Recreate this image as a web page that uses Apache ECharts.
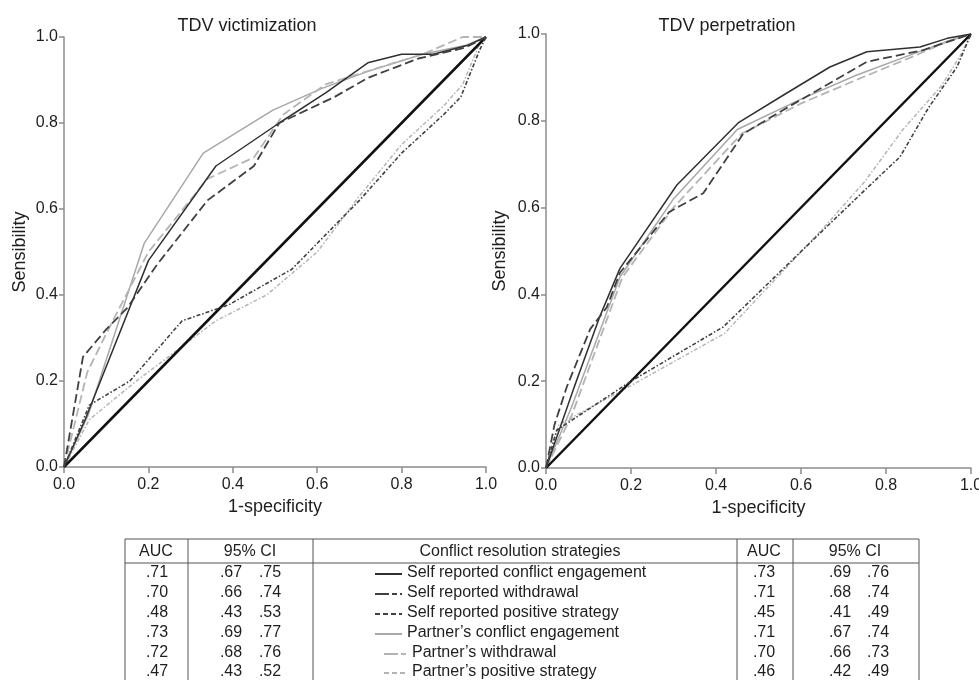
<!DOCTYPE html>
<html>
<head>
<meta charset="utf-8">
<script src="https://cdn.jsdelivr.net/npm/echarts@6/dist/echarts.min.js"></script>
<style>
html,body{margin:0;padding:0;background:#fff;}
#chart{width:979px;height:680px;}
</style>
</head>
<body>
<div id="chart"></div>
<script>
// ---------- data ----------
const tickLabels = ['0.0','0.2','0.4','0.6','0.8','1.0'];
const panelTitles = ['TDV victimization','TDV perpetration'];
const xAxisName = '1-specificity';
const yAxisName = 'Sensibility';

const strategyNames = [
  'Self reported conflict engagement',
  'Self reported withdrawal',
  'Self reported positive strategy',
  "Partner\u2019s conflict engagement",
  "Partner\u2019s withdrawal",
  "Partner\u2019s positive strategy"
];

// reference diagonal
const diagX = [0, 1];
const diagY = [0, 1];

// TDV victimization
const victSelfEngageX = [0, 0.05, 0.2, 0.36, 0.51, 0.62, 0.72, 0.80, 0.875, 0.955, 1];
const victSelfEngageY = [0, 0.11, 0.48, 0.70, 0.80, 0.87, 0.94, 0.96, 0.96, 0.98, 1];
const victSelfWithdrawX = [0, 0.045, 0.1, 0.15, 0.22, 0.34, 0.45, 0.51, 0.64, 0.72, 0.84, 0.95, 1];
const victSelfWithdrawY = [0, 0.256, 0.32, 0.37, 0.47, 0.62, 0.70, 0.80, 0.86, 0.905, 0.95, 0.975, 1];
const victSelfPositiveX = [0, 0.06, 0.156, 0.28, 0.39, 0.54, 0.61, 0.70, 0.80, 0.90, 0.94, 0.985, 1];
const victSelfPositiveY = [0, 0.144, 0.20, 0.34, 0.377, 0.46, 0.53, 0.62, 0.73, 0.82, 0.86, 0.97, 1];
const victPartnerEngageX = [0, 0.057, 0.19, 0.33, 0.495, 0.61, 0.72, 0.85, 0.95, 1];
const victPartnerEngageY = [0, 0.12, 0.52, 0.73, 0.83, 0.88, 0.92, 0.96, 0.98, 1];
const victPartnerWithdrawX = [0, 0.055, 0.1, 0.2, 0.34, 0.45, 0.52, 0.62, 0.75, 0.85, 0.945, 1];
const victPartnerWithdrawY = [0, 0.22, 0.31, 0.50, 0.67, 0.72, 0.82, 0.89, 0.93, 0.96, 1.0, 1.0];
const victPartnerPositiveX = [0, 0.06, 0.165, 0.36, 0.48, 0.60, 0.70, 0.80, 0.90, 0.945, 0.985, 1];
const victPartnerPositiveY = [0, 0.11, 0.195, 0.34, 0.40, 0.50, 0.63, 0.75, 0.84, 0.89, 0.985, 1];

// TDV perpetration
const perpSelfEngageX = [0, 0.064, 0.127, 0.174, 0.308, 0.452, 0.56, 0.668, 0.755, 0.88, 0.944, 1];
const perpSelfEngageY = [0, 0.18, 0.35, 0.46, 0.652, 0.795, 0.86, 0.924, 0.959, 0.97, 0.99, 1];
const perpSelfWithdrawX = [0, 0.02, 0.049, 0.104, 0.143, 0.174, 0.29, 0.37, 0.464, 0.558, 0.755, 0.888, 1];
const perpSelfWithdrawY = [0, 0.10, 0.187, 0.32, 0.37, 0.45, 0.59, 0.633, 0.77, 0.825, 0.936, 0.963, 1];
const perpSelfPositiveX = [0, 0.025, 0.2, 0.417, 0.652, 0.75, 0.833, 0.90, 0.967, 1];
const perpSelfPositiveY = [0, 0.087, 0.2, 0.325, 0.548, 0.64, 0.717, 0.83, 0.924, 1];
const perpPartnerEngageX = [0, 0.06, 0.174, 0.30, 0.45, 0.60, 0.73, 0.88, 0.95, 1];
const perpPartnerEngageY = [0, 0.14, 0.44, 0.62, 0.78, 0.85, 0.905, 0.96, 0.985, 1];
const perpPartnerWithdrawX = [0, 0.06, 0.18, 0.30, 0.46, 0.60, 0.72, 0.88, 0.95, 1];
const perpPartnerWithdrawY = [0, 0.12, 0.44, 0.60, 0.77, 0.84, 0.89, 0.955, 0.985, 1];
const perpPartnerPositiveX = [0, 0.03, 0.2, 0.42, 0.65, 0.75, 0.84, 0.93, 0.975, 1];
const perpPartnerPositiveY = [0, 0.10, 0.19, 0.31, 0.55, 0.66, 0.78, 0.88, 0.95, 1];

// table values
const aucVict    = [0.71, 0.70, 0.48, 0.73, 0.72, 0.47];
const ciLowVict  = [0.67, 0.66, 0.43, 0.69, 0.68, 0.43];
const ciHighVict = [0.75, 0.74, 0.53, 0.77, 0.76, 0.52];
const aucPerp    = [0.73, 0.71, 0.45, 0.71, 0.70, 0.46];
const ciLowPerp  = [0.69, 0.68, 0.41, 0.67, 0.66, 0.42];
const ciHighPerp = [0.76, 0.74, 0.49, 0.74, 0.73, 0.49];
const tableHeaders = ['AUC', '95% CI', 'Conflict resolution strategies', 'AUC', '95% CI'];

// ---------- styles ----------
const FONT = '"Liberation Sans", Arial, Helvetica, sans-serif';
const TXT = '#1e1e1e';
const AXISC = '#8c8c8c';
const styles = [
  {color:'#303030', width:1.5, type:'solid'},
  {color:'#404040', width:1.8, type:[9,4]},
  {color:'#404040', width:1.6, type:[4,2,1.5,2]},
  {color:'#a8a8a8', width:1.5, type:'solid'},
  {color:'#b4b4b4', width:1.8, type:[9,4]},
  {color:'#b4b4b4', width:1.5, type:[4,2,1.5,2]}
];

function zip(xs, ys){ return xs.map((x,i)=>[x, ys[i]]); }
function fmt(v){ return v.toFixed(2).slice(1); }

const victSets = [
  [victSelfEngageX, victSelfEngageY],
  [victSelfWithdrawX, victSelfWithdrawY],
  [victSelfPositiveX, victSelfPositiveY],
  [victPartnerEngageX, victPartnerEngageY],
  [victPartnerWithdrawX, victPartnerWithdrawY],
  [victPartnerPositiveX, victPartnerPositiveY]
];
const perpSets = [
  [perpSelfEngageX, perpSelfEngageY],
  [perpSelfWithdrawX, perpSelfWithdrawY],
  [perpSelfPositiveX, perpSelfPositiveY],
  [perpPartnerEngageX, perpPartnerEngageY],
  [perpPartnerWithdrawX, perpPartnerWithdrawY],
  [perpPartnerPositiveX, perpPartnerPositiveY]
];

const grids = [
  {left:64, top:37, width:422, height:430, containLabel:false, outerBoundsMode:'none'},
  {left:546, top:34, width:425, height:434, containLabel:false, outerBoundsMode:'none'}
];

function xAx(i){
  return {
    type:'value', gridIndex:i, min:0, max:1, interval:0.2,
    name:xAxisName, nameLocation:'middle', nameGap:27,
    nameTextStyle:{fontFamily:FONT, fontSize:18, color:TXT},
    axisLine:{lineStyle:{color:AXISC, width:1.5}},
    axisTick:{length:6, lineStyle:{color:AXISC, width:1.5}},
    axisLabel:{fontFamily:FONT, fontSize:16, color:TXT, margin:10,
      formatter:(v)=>tickLabels[Math.round(v/0.2)]},
    splitLine:{show:false}
  };
}
function yAx(i){
  return {
    type:'value', gridIndex:i, min:0, max:1, interval:0.2,
    name:yAxisName, nameLocation:'middle', nameGap: i === 0 ? 35 : 37, nameRotate:90,
    nameTextStyle:{fontFamily:FONT, fontSize:18, color:TXT},
    axisLine:{show:true, lineStyle:{color:AXISC, width:1.5}},
    axisTick:{show:true, length:5, lineStyle:{color:AXISC, width:1.5}},
    axisLabel:{fontFamily:FONT, fontSize:16, color:TXT, margin:6,
      formatter:(v)=>tickLabels[Math.round(v/0.2)]},
    splitLine:{show:false}
  };
}

const series = [];
[victSets, perpSets].forEach((sets, gi)=>{
  series.push({
    type:'line', xAxisIndex:gi, yAxisIndex:gi, data:zip(diagX, diagY),
    showSymbol:false, symbol:'none', silent:true, z:3,
    lineStyle:{color:'#111', width:2.5, type:'solid'}
  });
  sets.forEach((s, k)=>{
    series.push({
      type:'line', name:strategyNames[k], xAxisIndex:gi, yAxisIndex:gi,
      data:zip(s[0], s[1]), showSymbol:false, symbol:'none', silent:true,
      z: k < 3 ? 4 : 2,
      lineStyle:{color:styles[k].color, width:styles[k].width, type:styles[k].type}
    });
  });
});

// ---------- table drawn with graphic ----------
const T = {left:125, right:919, top:539, headLine:563, bottom:690,
  cols:[188, 313, 737, 793], headY:552, rowY:[573, 593, 613, 633, 653, 672]};
const graphic = [];
const lineC = '#555';
const TFS = 16;
function hline(y, x1, x2){ graphic.push({type:'line', shape:{x1, y1:y, x2, y2:y}, style:{stroke:lineC, lineWidth:1}, silent:true}); }
function vline(x, y1, y2){ graphic.push({type:'line', shape:{x1:x, y1, x2:x, y2}, style:{stroke:lineC, lineWidth:1}, silent:true}); }
function txt(s, x, y, align){
  graphic.push({type:'text', x, y, silent:true,
    style:{text:s, font:TFS + 'px ' + FONT, fill:TXT, textAlign:align||'center', textVerticalAlign:'middle'}});
}
hline(T.top, T.left, T.right);
hline(T.headLine, T.left, T.right);
vline(T.left, T.top, T.bottom);
T.cols.forEach(c=>vline(c, T.top, T.bottom));
vline(T.right, T.top, T.bottom);

txt(tableHeaders[0], 156, T.headY);
txt(tableHeaders[1], 250, T.headY);
txt(tableHeaders[2], 520, T.headY);
txt(tableHeaders[3], 764, T.headY);
txt(tableHeaders[4], 855, T.headY);

const sampleX = [[375,402],[375,402],[375,402],[375,402],[384,408],[384,408]];
const labelX = [407, 407, 407, 407, 412, 412];
strategyNames.forEach((name, k)=>{
  const y = T.rowY[k];
  txt(fmt(aucVict[k]), 157, y);
  txt(fmt(ciLowVict[k]), 231, y);
  txt(fmt(ciHighVict[k]), 270, y);
  txt(fmt(aucPerp[k]), 764, y);
  txt(fmt(ciLowPerp[k]), 840, y);
  txt(fmt(ciHighPerp[k]), 878, y);
  const st = styles[k];
  graphic.push({type:'line', silent:true,
    shape:{x1:sampleX[k][0], y1:y+1, x2:sampleX[k][1], y2:y+1},
    style:{stroke:st.color, lineWidth:2, lineDash: st.type === 'solid' ? null : (k%3===1 ? [14,3,5,3] : [5,3])}});
  txt(name, labelX[k], y, 'left');
});

const option = {
  backgroundColor:'#fff',
  animation:false,
  title:[
    {text:panelTitles[0], left:242, top:12, textAlign:'center',
      textStyle:{fontFamily:FONT, fontSize:18, fontWeight:'normal', color:TXT}},
    {text:panelTitles[1], left:722, top:12, textAlign:'center',
      textStyle:{fontFamily:FONT, fontSize:18, fontWeight:'normal', color:TXT}}
  ],
  grid:grids,
  xAxis:[xAx(0), xAx(1)],
  yAxis:[yAx(0), yAx(1)],
  series:series,
  graphic:graphic
};

const chart = echarts.init(document.getElementById('chart'));
chart.setOption(option);
</script>
</body>
</html>
